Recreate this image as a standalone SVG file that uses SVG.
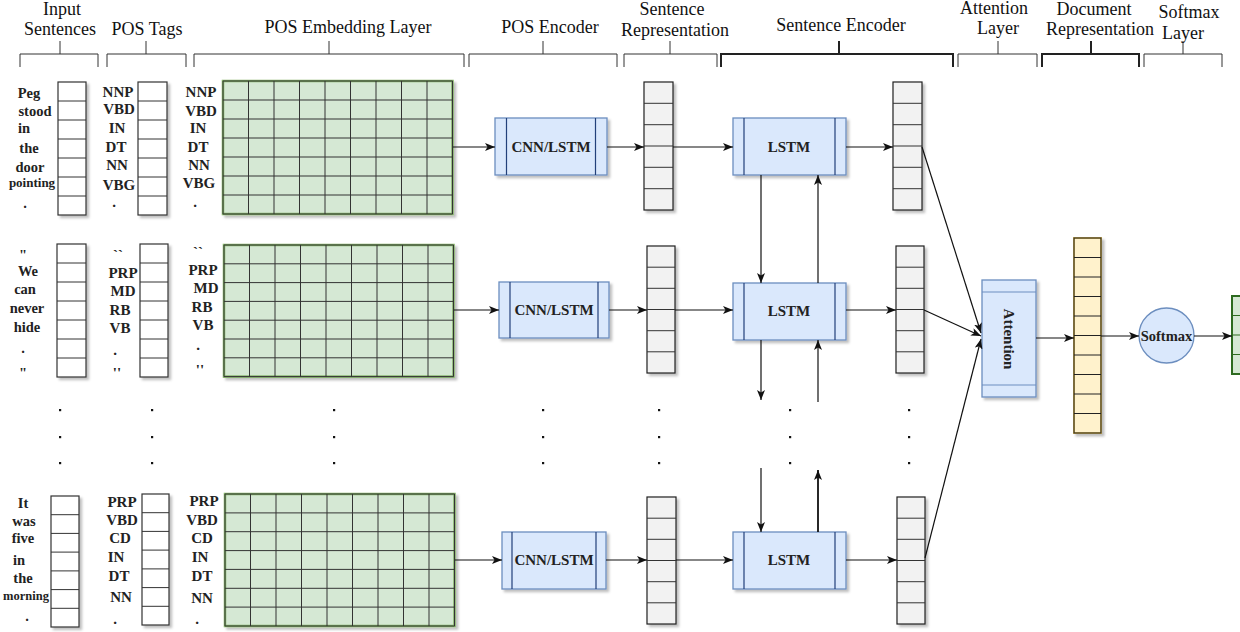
<svg xmlns="http://www.w3.org/2000/svg" width="1240" height="632" viewBox="0 0 1240 632">
<defs>
<style>
.hdr{font-family:"Liberation Serif",serif;font-size:18px;fill:#111;text-anchor:middle}
.w{font-family:"Liberation Serif",serif;font-size:14.5px;font-weight:bold;fill:#222;text-anchor:middle}
.t{font-family:"Liberation Serif",serif;font-size:15px;font-weight:bold;fill:#222;text-anchor:middle}
.lbl{font-family:"Liberation Serif",serif;font-size:15px;font-weight:bold;fill:#222;text-anchor:middle}
.br{fill:none;stroke:#333;stroke-width:1}
.brb{fill:none;stroke:#222;stroke-width:2}
.wc{fill:#fff;stroke:#333;stroke-width:1.2}
.gc{fill:#f2f2f2;stroke:#222;stroke-width:1.2}
.ln{fill:none;stroke:#333;stroke-width:1}
.grid{fill:#d5e8d4;stroke:#82b366;stroke-width:2.5}
.gl{fill:none;stroke:#333;stroke-width:1}
.proc{fill:#dae8fc;stroke:#6c8ebf;stroke-width:1.3}
.pin{fill:none;stroke:#23407a;stroke-width:1.2}
.doc{fill:#fff2cc;stroke:#d6b656;stroke-width:2}
.fin{fill:#d5e8d4;stroke:#2d6a1f;stroke-width:2}
.edge{fill:none;stroke:#111;stroke-width:1.2;marker-end:url(#arr)}
.dot{fill:#111}
</style>
<marker id="arr" markerUnits="userSpaceOnUse" markerWidth="10" markerHeight="8" refX="10" refY="4" orient="auto">
<path d="M0,0 L10,4 L0,8 L2.5,4 z" fill="#111"/>
</marker>
<filter id="sh" x="-20%" y="-20%" width="140%" height="140%">
<feDropShadow dx="2.5" dy="2.5" stdDeviation="0.8" flood-color="#000" flood-opacity="0.25"/>
</filter>
</defs>
<rect width="1240" height="632" fill="#fff"/>

<g id="headers">
<text class="hdr" x="62" y="15">Input</text>
<text class="hdr" x="60" y="35">Sentences</text>
<path class="br" d="M20,67 V54 H98 V67 M60,41 V54"/>
<text class="hdr" x="147" y="35">POS Tags</text>
<path class="br" d="M107,67 V54 H186 V67 M146,41 V54"/>
<text class="hdr" x="348" y="33">POS Embedding Layer</text>
<path class="br" d="M194,67 V54 H464 V67 M329,41 V54"/>
<text class="hdr" x="550" y="33">POS Encoder</text>
<path class="br" d="M469,67 V54 H617 V67 M543,41 V54"/>
<text class="hdr" x="672" y="15">Sentence</text>
<text class="hdr" x="675" y="36">Representation</text>
<path class="br" d="M624,67 V54 H717 V67 M670,41 V54"/>
<text class="hdr" x="841" y="31">Sentence Encoder</text>
<path class="brb" d="M721,67 V54 H953 V67 M839,41 V54"/>
<text class="hdr" x="994" y="14">Attention</text>
<text class="hdr" x="998" y="34">Layer</text>
<path class="br" d="M958,67 V54 H1037 V67 M998,41 V54"/>
<text class="hdr" x="1094" y="15">Document</text>
<text class="hdr" x="1100" y="35">Representation</text>
<path class="brb" d="M1042,67 V54 H1139 V67 M1091,41 V54"/>
<text class="hdr" x="1189" y="18">Softmax</text>
<text class="hdr" x="1183" y="39">Layer</text>
<path class="br" d="M1144,67 V54 H1222 V67 M1183,41 V54"/>
</g>

<g id="input-sentence-1">
<rect class="wc" x="58" y="82" width="28" height="133" filter="url(#sh)"/>
<path class="ln" d="M58,101H86M58,120H86M58,139H86M58,158H86M58,177H86M58,196H86"/>
<text class="w" x="29" y="98">Peg</text>
<text class="w" x="35" y="116">stood</text>
<text class="w" x="24" y="133">in</text>
<text class="w" x="29" y="153">the</text>
<text class="w" x="30" y="172">door</text>
<text class="w" x="32" y="187" style="font-size:13px">pointing</text>
<text class="w" x="25" y="208">.</text>
</g>
<g id="pos-tags-1">
<rect class="wc" x="138" y="82" width="29" height="133" filter="url(#sh)"/>
<path class="ln" d="M138,101H167M138,120H167M138,139H167M138,158H167M138,177H167M138,196H167"/>
<text class="t" x="118" y="97">NNP</text>
<text class="t" x="119" y="114">VBD</text>
<text class="t" x="117" y="133">IN</text>
<text class="t" x="116" y="152">DT</text>
<text class="t" x="117" y="170">NN</text>
<text class="t" x="119" y="190">VBG</text>
<text class="t" x="114" y="207">.</text>
</g>
<g id="pos-embedding-1">
<text class="t" x="201" y="97">NNP</text>
<text class="t" x="201" y="116">VBD</text>
<text class="t" x="198" y="133">IN</text>
<text class="t" x="198" y="152">DT</text>
<text class="t" x="199" y="170">NN</text>
<text class="t" x="199" y="188">VBG</text>
<text class="t" x="195" y="207">.</text>
<rect class="grid" x="223" y="81" width="229.5" height="133" filter="url(#sh)"/>
<path class="gl" d="M223,81H452.5V214H223Z M248.5,81V214M274,81V214M299.5,81V214M325,81V214M350.5,81V214M376,81V214M401.5,81V214M427,81V214 M223,100H452.5M223,119H452.5M223,138H452.5M223,157H452.5M223,176H452.5M223,195H452.5"/>
</g>

<g id="input-sentence-2">
<rect class="wc" x="57" y="244" width="29" height="133" filter="url(#sh)"/>
<path class="ln" d="M57,263H86M57,282H86M57,301H86M57,320H86M57,339H86M57,358H86"/>
<text class="w" x="23" y="260">"</text>
<text class="w" x="28" y="276">We</text>
<text class="w" x="25" y="294">can</text>
<text class="w" x="27" y="313">never</text>
<text class="w" x="27" y="332">hide</text>
<text class="w" x="23" y="353">.</text>
<text class="w" x="23" y="378">"</text>
</g>
<g id="pos-tags-2">
<rect class="wc" x="140" y="244" width="28" height="133" filter="url(#sh)"/>
<path class="ln" d="M140,263H168M140,282H168M140,301H168M140,320H168M140,339H168M140,358H168"/>
<text class="t" x="118" y="260">``</text>
<text class="t" x="123" y="278">PRP</text>
<text class="t" x="123" y="296">MD</text>
<text class="t" x="120" y="315">RB</text>
<text class="t" x="120" y="333">VB</text>
<text class="t" x="115" y="355">.</text>
<text class="t" x="117" y="378">''</text>
</g>
<g id="pos-embedding-2">
<text class="t" x="198" y="257">``</text>
<text class="t" x="203" y="275">PRP</text>
<text class="t" x="206" y="293">MD</text>
<text class="t" x="202" y="312">RB</text>
<text class="t" x="203" y="330">VB</text>
<text class="t" x="198" y="350">.</text>
<text class="t" x="200" y="375">''</text>
<rect class="grid" x="224" y="245" width="229.5" height="131.6" filter="url(#sh)"/>
<path class="gl" d="M224,245H453.5V376.6H224Z M249.5,245V376.6M275,245V376.6M300.5,245V376.6M326,245V376.6M351.5,245V376.6M377,245V376.6M402.5,245V376.6M428,245V376.6 M224,263.8H453.5M224,282.6H453.5M224,301.4H453.5M224,320.2H453.5M224,339H453.5M224,357.8H453.5"/>
</g>

<g id="input-sentence-3">
<rect class="wc" x="51" y="496" width="28" height="131" filter="url(#sh)"/>
<path class="ln" d="M51,514.7H79M51,533.4H79M51,552.1H79M51,570.9H79M51,589.6H79M51,608.3H79"/>
<text class="w" x="23" y="508">It</text>
<text class="w" x="24" y="526">was</text>
<text class="w" x="23" y="543">five</text>
<text class="w" x="19" y="565">in</text>
<text class="w" x="23" y="583">the</text>
<text class="w" x="26" y="600" style="font-size:12.5px">morning</text>
<text class="w" x="27" y="621">.</text>
</g>
<g id="pos-tags-3">
<rect class="wc" x="142" y="494" width="27" height="131" filter="url(#sh)"/>
<path class="ln" d="M142,512.7H169M142,531.4H169M142,550.1H169M142,568.9H169M142,587.6H169M142,606.3H169"/>
<text class="t" x="122" y="507">PRP</text>
<text class="t" x="122" y="525">VBD</text>
<text class="t" x="120" y="543">CD</text>
<text class="t" x="116" y="562">IN</text>
<text class="t" x="119" y="581">DT</text>
<text class="t" x="121" y="602">NN</text>
<text class="t" x="115" y="624">.</text>
</g>
<g id="pos-embedding-3">
<text class="t" x="204" y="506">PRP</text>
<text class="t" x="202" y="525">VBD</text>
<text class="t" x="202" y="543">CD</text>
<text class="t" x="200" y="562">IN</text>
<text class="t" x="202" y="581">DT</text>
<text class="t" x="202" y="603">NN</text>
<text class="t" x="197" y="624">.</text>
<rect class="grid" x="225" y="494" width="229.5" height="132" filter="url(#sh)"/>
<path class="gl" d="M225,494H454.5V626H225Z M250.5,494V626M276,494V626M301.5,494V626M327,494V626M352.5,494V626M378,494V626M403.5,494V626M429,494V626 M225,512.9H454.5M225,531.7H454.5M225,550.6H454.5M225,569.4H454.5M225,588.3H454.5M225,607.1H454.5"/>
</g>

<g id="pos-encoder-1">
<rect class="proc" x="495" y="118" width="112" height="57" filter="url(#sh)"/>
<path class="pin" d="M506.5,118V175M595.5,118V175"/>
<text class="lbl" x="551" y="152">CNN/LSTM</text>
</g>
<g id="pos-encoder-2">
<rect class="proc" x="499" y="282" width="110" height="56" filter="url(#sh)"/>
<path class="pin" d="M510,282V338M598,282V338"/>
<text class="lbl" x="554" y="315">CNN/LSTM</text>
</g>
<g id="pos-encoder-3">
<rect class="proc" x="502" y="532" width="104" height="57" filter="url(#sh)"/>
<path class="pin" d="M512,532V589M596,532V589"/>
<text class="lbl" x="554" y="565">CNN/LSTM</text>
</g>

<g id="sentence-rep-1">
<rect class="gc" x="644" y="82" width="29" height="128" filter="url(#sh)"/>
<path class="ln" d="M644,103.3H673M644,124.7H673M644,146H673M644,167.3H673M644,188.7H673"/>
</g>
<g id="sentence-rep-2">
<rect class="gc" x="647" y="246" width="28" height="127" filter="url(#sh)"/>
<path class="ln" d="M647,267.2H675M647,288.3H675M647,309.5H675M647,330.7H675M647,351.8H675"/>
</g>
<g id="sentence-rep-3">
<rect class="gc" x="647" y="497" width="29" height="127" filter="url(#sh)"/>
<path class="ln" d="M647,518.2H676M647,539.3H676M647,560.5H676M647,581.7H676M647,602.8H676"/>
</g>

<g id="lstm-1">
<rect class="proc" x="733" y="118" width="113" height="57" filter="url(#sh)"/>
<path class="pin" d="M744,118V175M835,118V175"/>
<text class="lbl" x="789" y="152">LSTM</text>
</g>
<g id="lstm-2">
<rect class="proc" x="733" y="283" width="113" height="57" filter="url(#sh)"/>
<path class="pin" d="M744,283V340M835,283V340"/>
<text class="lbl" x="789" y="316">LSTM</text>
</g>
<g id="lstm-3">
<rect class="proc" x="733" y="532" width="113" height="57" filter="url(#sh)"/>
<path class="pin" d="M744,532V589M835,532V589"/>
<text class="lbl" x="789" y="565">LSTM</text>
</g>

<g id="encoder-out-1">
<rect class="gc" x="893" y="82" width="29" height="128" filter="url(#sh)"/>
<path class="ln" d="M893,103.3H922M893,124.7H922M893,146H922M893,167.3H922M893,188.7H922"/>
</g>
<g id="encoder-out-2">
<rect class="gc" x="896" y="246" width="28" height="127" filter="url(#sh)"/>
<path class="ln" d="M896,267.2H924M896,288.3H924M896,309.5H924M896,330.7H924M896,351.8H924"/>
</g>
<g id="encoder-out-3">
<rect class="gc" x="897" y="497" width="28" height="127" filter="url(#sh)"/>
<path class="ln" d="M897,518.2H925M897,539.3H925M897,560.5H925M897,581.7H925M897,602.8H925"/>
</g>

<g id="attention">
<rect class="proc" x="982" y="280" width="54" height="117" filter="url(#sh)"/>
<path class="pin" d="M982,292H1036M982,385H1036" style="stroke:#6c8ebf"/>
<text class="lbl" transform="translate(1004,339) rotate(90)" x="0" y="0">Attention</text>
</g>

<g id="document-rep">
<rect class="doc" x="1074" y="238" width="27" height="195" filter="url(#sh)"/>
<path class="ln" d="M1074,257.5H1101M1074,277H1101M1074,296.5H1101M1074,316H1101M1074,335.5H1101M1074,355H1101M1074,374.5H1101M1074,394H1101M1074,413.5H1101" style="stroke:#222"/>
<rect x="1074" y="238" width="27" height="195" fill="none" stroke="#222" stroke-width="1"/>
</g>

<g id="softmax">
<circle cx="1166.5" cy="335.5" r="27.5" fill="#dae8fc" stroke="#6c8ebf" stroke-width="1.3"/>
<text class="lbl" x="1166.5" y="340.5" style="font-size:14.5px">Softmax</text>
</g>

<g id="output">
<rect class="fin" x="1232" y="296" width="14" height="78"/>
<path class="ln" d="M1232,315.5H1246M1232,335H1246M1232,354.5H1246" style="stroke:#2d6a1f"/>
</g>

<g id="dots">
<rect class="dot" x="59" y="409" width="2.2" height="2.2"/><rect class="dot" x="59" y="436" width="2.2" height="2.2"/><rect class="dot" x="59" y="462" width="2.2" height="2.2"/>
<rect class="dot" x="151" y="409" width="2.2" height="2.2"/><rect class="dot" x="151" y="436" width="2.2" height="2.2"/><rect class="dot" x="151" y="462" width="2.2" height="2.2"/>
<rect class="dot" x="333" y="409" width="2.2" height="2.2"/><rect class="dot" x="333" y="436" width="2.2" height="2.2"/><rect class="dot" x="333" y="462" width="2.2" height="2.2"/>
<rect class="dot" x="542" y="409" width="2.2" height="2.2"/><rect class="dot" x="542" y="436" width="2.2" height="2.2"/><rect class="dot" x="542" y="462" width="2.2" height="2.2"/>
<rect class="dot" x="658" y="409" width="2.2" height="2.2"/><rect class="dot" x="658" y="436" width="2.2" height="2.2"/><rect class="dot" x="658" y="462" width="2.2" height="2.2"/>
<rect class="dot" x="789" y="409" width="2.2" height="2.2"/><rect class="dot" x="789" y="436" width="2.2" height="2.2"/><rect class="dot" x="789" y="462" width="2.2" height="2.2"/>
<rect class="dot" x="908" y="409" width="2.2" height="2.2"/><rect class="dot" x="908" y="436" width="2.2" height="2.2"/><rect class="dot" x="908" y="462" width="2.2" height="2.2"/>
</g>

<g id="connectors">
<path class="edge" d="M453,147H495"/>
<path class="edge" d="M454,310H499"/>
<path class="edge" d="M455,560H502"/>
<path class="edge" d="M607,147H644"/>
<path class="edge" d="M609,310H647"/>
<path class="edge" d="M606,560H647"/>
<path class="edge" d="M673,147H733"/>
<path class="edge" d="M675,310H733"/>
<path class="edge" d="M676,560H733"/>
<path class="edge" d="M846,147H893"/>
<path class="edge" d="M846,310H896"/>
<path class="edge" d="M846,560H897"/>
<path class="edge" d="M761,175V283"/>
<path class="edge" d="M818,283V175"/>
<path class="edge" d="M761,340V400"/>
<path class="edge" d="M818,402V340"/>
<path class="edge" d="M761,468V532"/>
<path class="edge" d="M818,532V470" style="stroke-width:1.8"/>
<path class="edge" d="M922,147L981,333"/>
<path class="edge" d="M924,310L981,336"/>
<path class="edge" d="M925,558L981,339"/>
<path class="edge" d="M1036,338H1074"/>
<path class="edge" d="M1101,336H1139"/>
<path class="edge" d="M1194,336H1232"/>
</g>
</svg>
